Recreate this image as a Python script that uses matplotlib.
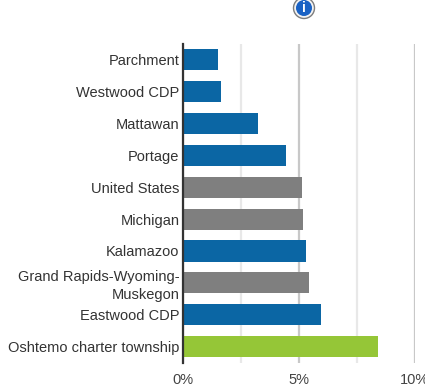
# -*- coding: utf-8 -*-
import matplotlib
matplotlib.use('Agg')
import matplotlib.pyplot as plt
from matplotlib.patches import Circle

plt.rcParams['font.family'] = ['Liberation Sans', 'DejaVu Sans']

places = ['Parchment', 'Westwood CDP', 'Mattawan', 'Portage', 'United States', 'Michigan',
          'Kalamazoo', 'Grand Rapids-Wyoming-\nMuskegon', 'Eastwood CDP', 'Oshtemo charter township']
values = [1.5, 1.63, 3.22, 4.45, 5.14, 5.18, 5.31, 5.43, 5.94, 8.42]
colors = ['#0b66a4', '#0b66a4', '#0b66a4', '#0b66a4', '#7f7f7f', '#7f7f7f',
          '#0b66a4', '#7f7f7f', '#0b66a4', '#95c637']
major_ticks = [0, 5, 10]
major_labels = ['0%', '5%', '10%']
minor_ticks = [2.5, 7.5]

W, H = 425, 391
fig = plt.figure(figsize=(W / 100, H / 100), dpi=100, facecolor='white')

# 像素坐标换算成figure坐标
left, right, top, bottom = 183, 414.7, 43.5, 363
ax = fig.add_axes([left / W, 1 - bottom / H, (right - left) / W, (bottom - top) / H])

ax.barh(range(len(places)), values, height=0.66, color=colors, zorder=3)
ax.set_ylim(len(places) - 0.5 + 0.01, -0.5)
ax.set_xlim(0, 10)

ax.set_yticks(range(len(places)))
ax.set_yticklabels(places, fontsize=10.55, color='#333333', linespacing=1.3)
ax.set_xticks(major_ticks)
ax.set_xticklabels(major_labels, fontsize=10.55, color='#444444')
ax.set_xticks(minor_ticks, minor=True)

ax.tick_params(axis='y', length=0, pad=2.5)
ax.tick_params(axis='x', which='both', length=0, pad=7.5)

ax.grid(axis='x', which='major', color='#c8c8c8', lw=1.6, zorder=1)
ax.grid(axis='x', which='minor', color='#e8e8e8', lw=1.6, zorder=1)
ax.set_axisbelow(True)

for s in ['top', 'right', 'bottom']:
    ax.spines[s].set_visible(False)
ax.spines['left'].set_color('#333333')
ax.spines['left'].set_linewidth(1.6)
ax.spines['left'].set_zorder(5)

# 顶部的信息图标
icon = fig.add_axes([0, 0, 1, 1], facecolor='none')
icon.set_xlim(0, W)
icon.set_ylim(H, 0)
icon.axis('off')
icon.add_patch(Circle((304, 8), 10.5, fc='#f2f2f2', ec='#7d7d7d', lw=1))
icon.add_patch(Circle((304, 8), 8, fc='#1a62c4', ec='none'))
icon.text(304, 8, 'i', color='white', fontsize=10, fontweight='bold', ha='center', va='center')

fig.savefig('out.png', dpi=100)
